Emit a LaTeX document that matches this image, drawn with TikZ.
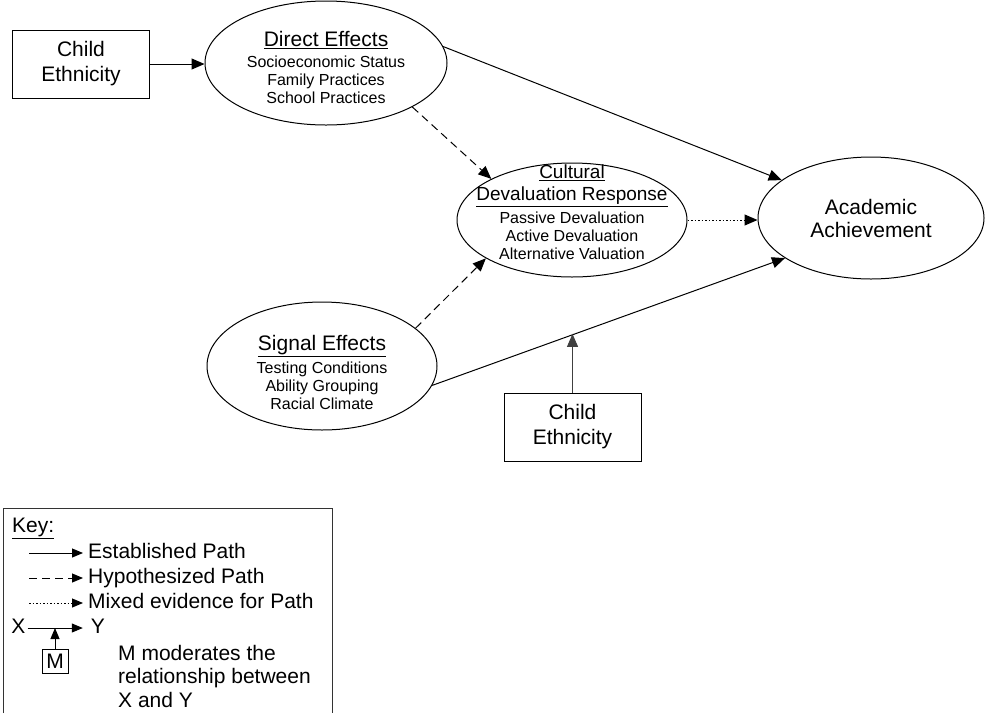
\documentclass[tikz,border=0pt]{standalone}
\usepackage{fontspec}
\setmainfont{Liberation Sans}
\usetikzlibrary{arrows.meta,calc,shapes.geometric}
\newcommand\bigfont{\fontsize{21}{25}\selectfont}
\newcommand\midfont{\fontsize{19}{23}\selectfont}
\newcommand\subfont{\fontsize{16}{18}\selectfont}
\tikzset{
  estab/.style={-{Triangle[length=13pt,width=11pt]}, line width=1pt},
  hypo/.style={estab, dash pattern=on 8pt off 5pt},
  mixed/.style={estab, dash pattern=on 1.5pt off 2pt},
  keyarr/.style={-{Triangle[length=11pt,width=9pt]}, line width=1pt},
  oval/.style={ellipse, draw, line width=1pt, inner sep=0pt},
  var/.style={rectangle, draw, line width=1pt, align=center, font=\bigfont,
    minimum width=137, minimum height=68},
  inner/.style={align=center, font=\subfont, inner sep=0pt},
  keytxt/.style={font=\bigfont, inner sep=0pt, text height=15pt, text depth=4.5pt},
}

\begin{document}
\begin{tikzpicture}[x=1pt, y=-1pt]
  \useasboundingbox (0,0) rectangle (985,713);
  % variables
  \node[var] (eth1) at (81,64) {Child\\Ethnicity};
  \node[var] (eth2) at (572.5,427) {Child\\Ethnicity};
  \node[oval, minimum width=242, minimum height=124] (dir) at (326,63) {};
  \node[oval, minimum width=230, minimum height=114] (cult) at (572,220) {};
  \node[oval, minimum width=226, minimum height=122] (acad) at (871,218) {};
  \node[oval, minimum width=230, minimum height=128] (sig) at (322,366) {};
  % texts in the ellipses
  \node[inner] (dirtxt) at ([yshift=-4.5pt]dir.center) {{\bigfont\underline{Direct Effects}}\\[3pt]
    Socioeconomic Status\\ Family Practices\\ School Practices};
  \node[inner] (culttxt) at ([yshift=7.5pt]cult.center) {{\midfont\underline{Cultural}}\\[4pt]
    {\midfont\underline{Devaluation Response}}\\[5pt]
    Passive Devaluation\\ Active Devaluation\\ Alternative Valuation};
  \node[inner, font=\bigfont] (acadtxt) at (acad.center) {Academic\\[-2pt]Achievement};
  \node[inner] (sigtxt) at ([yshift=-6pt]sig.center) {{\bigfont\underline{Signal Effects}}\\[5pt]
    Testing Conditions\\ Ability Grouping\\ Racial Climate};
  % paths
  \draw[estab] (eth1.east) -- (eth1.east -| dir.west);
  \draw[estab] (dir.8) -- (acad.157);
  \draw[hypo] (dir.-27) -- (cult.153);
  \draw[hypo] (sig.22) -- (cult.204);
  \draw[mixed] (cult.east) -- (cult.east -| acad.west);
  \draw[estab] (sig.-10.5) -- (acad.205.5);
  \coordinate (modpt) at ($(sig.-10.5)!0.405!(acad.205.5)$);
  \draw[estab, black!75] (eth2.north) -- (eth2.north |- modpt);
  % key
  \draw[line width=1pt, black!80] (3,713) |- (332,508) -- (332,713);
  \node[keytxt, anchor=west] (kkey) at (12,527) {\underline{Key:}};
  \node[keytxt, anchor=west, inner xsep=5pt] (kest) at (83,553) {Established Path};
  \node[keytxt, anchor=west, inner xsep=5pt] (khyp) at (83,578) {Hypothesized Path};
  \node[keytxt, anchor=west, inner xsep=5pt] (kmix) at (83,603) {Mixed evidence for Path};
  \coordinate (kest0) at (29,553);
  \coordinate (khyp0) at (29,578);
  \coordinate (kmix0) at (29,603);
  \draw[keyarr] (kest0) -- (kest.west);
  \draw[keyarr, dash pattern=on 8pt off 5pt] (khyp0) -- (khyp.west);
  \draw[keyarr, dash pattern=on 1.5pt off 2pt] (kmix0) -- (kmix.west);
  \node[keytxt, inner xsep=2pt] (kx) at (18.5,628) {X};
  \node[keytxt, inner xsep=1pt] (ky) at (98,628) {Y};
  \draw[keyarr] (kx.east) -- ([xshift=-7pt]ky.west);
  \node[draw, line width=1pt, font=\bigfont, inner sep=0pt, minimum width=26, minimum height=24] (km) at (55,661) {M};
  \draw[keyarr] (km.north) -- (km.north |- kx);
  \node[font=\fontsize{21}{23.5}\selectfont, align=left, inner sep=0pt, anchor=north west] (kmod) at (118,645)
    {M moderates the\\relationship between\\X and Y};
\end{tikzpicture}
\end{document}
